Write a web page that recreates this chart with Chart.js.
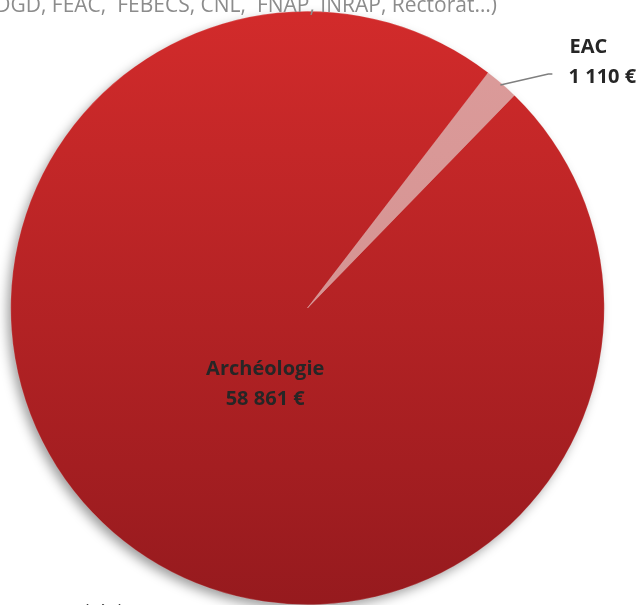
<!DOCTYPE html>
<html>
<head>
<meta charset="utf-8">
<script src="https://cdn.jsdelivr.net/npm/chart.js@4.4.1/dist/chart.umd.min.js"></script>
<style>
  body { margin: 0; background: #fff; }
  #wrap { width: 641px; height: 605px; position: relative; overflow: hidden; }
</style>
</head>
<body>
<div id="wrap"><canvas id="myChart" width="641" height="605"></canvas></div>
<script>
var categories = ['Archéologie', 'EAC'];
var amounts = [58861, 1110];
var amountLabels = ['58 861 €', '1 110 €'];
var titleText = '(DGD, FEAC,  FEBECS, CNL,  FNAP, INRAP, Rectorat…)';
var footText = 'Archéologie (98 %)';

var labelFont = 'bold 20px "Open Sans", sans-serif';

// vertical red gradient like the office chart
function sliceColor(context) {
    var chart = context.chart;
    var area = chart.chartArea;
    if (!area) return '#b72427';
    var g = chart.ctx.createLinearGradient(0, area.top, 0, area.bottom);
    if (context.dataIndex === 0) {
        g.addColorStop(0, '#d22b2b');
        g.addColorStop(1, '#961a1e');
    } else {
        g.addColorStop(0, '#dc9c9b');
        g.addColorStop(1, '#cf8b8a');
    }
    return g;
}

var pieExtras = {
    id: 'pieExtras',
    beforeDatasetsDraw: function (chart) {
        // soft shadow under the pie
        var arc = chart.getDatasetMeta(0).data[0];
        var ctx = chart.ctx;
        ctx.save();
        ctx.shadowColor = 'rgba(0,0,0,0.4)';
        ctx.shadowBlur = 12;
        ctx.shadowOffsetX = -4;
        ctx.shadowOffsetY = 5;
        ctx.fillStyle = '#a01c20';
        ctx.beginPath();
        ctx.arc(arc.x, arc.y, arc.outerRadius - 1, 0, Math.PI * 2);
        ctx.fill();
        ctx.restore();
    },
    afterDatasetsDraw: function (chart) {
        var ctx = chart.ctx;
        var meta = chart.getDatasetMeta(0);
        ctx.save();
        ctx.font = labelFont;
        ctx.fillStyle = '#262626';
        ctx.textAlign = 'center';
        ctx.textBaseline = 'middle';

        // big slice label, inside
        var a0 = meta.data[0];
        var p = a0.getProps(['x', 'y', 'startAngle', 'endAngle', 'outerRadius'], true);
        var mid = (p.startAngle + p.endAngle) / 2;
        var r0 = p.outerRadius * 0.29;
        var lx = p.x + Math.cos(mid) * r0 + 14;
        var ly = p.y + Math.sin(mid) * r0 + 11;
        ctx.fillText(categories[0], lx, ly - 15);
        ctx.fillText(amountLabels[0], lx, ly + 15);

        // small slice label, outside with leader line
        var a1 = meta.data[1];
        var q = a1.getProps(['x', 'y', 'startAngle', 'endAngle', 'outerRadius'], true);
        var m1 = (q.startAngle + q.endAngle) / 2;
        var sx = q.x + Math.cos(m1) * (q.outerRadius - 2);
        var sy = q.y + Math.sin(m1) * (q.outerRadius - 2);
        ctx.strokeStyle = '#7f7f7f';
        ctx.lineWidth = 1.5;
        ctx.beginPath();
        ctx.moveTo(sx, sy);
        ctx.lineTo(sx + 48, sy - 11);
        ctx.lineTo(sx + 52, sy - 11);
        ctx.stroke();
        ctx.fillText(categories[1], sx + 88, sy - 38);
        ctx.fillText(amountLabels[1], sx + 102, sy - 8);

        // cropped title and footer text
        ctx.font = '21px "Open Sans", sans-serif';
        ctx.fillStyle = '#8c8c8c';
        ctx.textAlign = 'right';
        ctx.textBaseline = 'alphabetic';
        ctx.fillText(titleText, 497, 12);
        ctx.font = '18px "Open Sans", sans-serif';
        ctx.fillStyle = '#404040';
        ctx.textAlign = 'left';
        ctx.fillText(footText, 58, 618);
        ctx.restore();
    }
};

var ctx = document.getElementById('myChart').getContext('2d');
var myChart = new Chart(ctx, {
    type: 'pie',
    data: {
        labels: categories,
        datasets: [{
            data: amounts,
            backgroundColor: sliceColor,
            borderColor: 'rgba(255,255,255,0.35)',
            borderWidth: 0.5
        }]
    },
    options: {
        responsive: false,
        animation: false,
        events: [],
        rotation: 44.2,
        layout: {
            padding: { left: 9, right: 35, top: 11, bottom: 0 }
        },
        plugins: {
            legend: { display: false },
            tooltip: { enabled: false },
            title: { display: false }
        }
    },
    plugins: [pieExtras]
});
</script>
</body>
</html>
